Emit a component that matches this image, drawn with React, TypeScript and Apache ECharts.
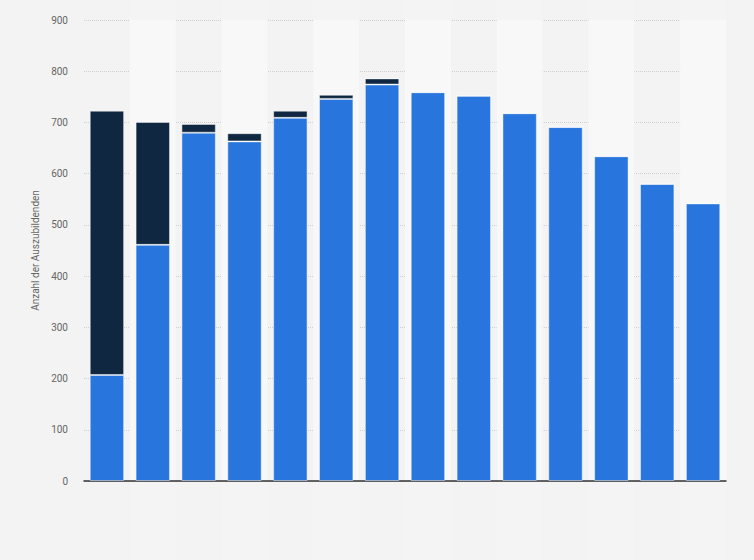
import { useEffect, useRef } from "react";
import * as echarts from "echarts";

// Kategorien (auf dem Bild ohne Beschriftung)
const categories = [
  "1", "2", "3", "4", "5", "6", "7",
  "8", "9", "10", "11", "12", "13", "14",
];

// unterer Teil (blau)
const blueValues = [207, 461, 680, 663, 709, 746, 774, 759, 752, 718, 691, 634, 580, 542];
// oberer Teil (dunkel)
const darkValues = [516, 240, 17, 16, 14, 8, 12, 0, 0, 0, 0, 0, 0, 0];

const yTicks = { min: 0, max: 900, interval: 100 };

const BG = "#f3f3f3";
const BLUE = "#2876dd";
const DARK = "#0f2741";

export default function App() {
  const chartRef = useRef<HTMLDivElement>(null);

  useEffect(() => {
    if (!chartRef.current) return;
    const chart = echarts.init(chartRef.current, undefined, { renderer: "svg" });

    const barBorder = { borderColor: "rgba(255,255,255,0.45)", borderWidth: 1 };

    chart.setOption({
      animation: false,
      backgroundColor: BG,
      grid: [
        { left: 84, right: 28, top: 20, bottom: 79 },
        // ganze Höhe für die schwachen Streifen
        { left: 84, right: 28, top: 0, bottom: 0 },
      ],
      xAxis: [
        {
          type: "category",
          gridIndex: 0,
          data: categories,
          axisLine: { lineStyle: { color: "#333", width: 1.5 } },
          axisTick: { show: false },
          axisLabel: { show: false, interval: 0 },
          splitArea: {
            show: true,
            interval: 0,
            areaStyle: { color: ["rgba(0,0,0,0)", "#f7f7f7"] },
          },
        },
        {
          type: "category",
          gridIndex: 1,
          data: categories,
          axisLine: { show: false },
          axisTick: { show: false },
          axisLabel: { show: false, interval: 0 },
          splitArea: {
            show: true,
            interval: 0,
            areaStyle: { color: ["rgba(0,0,0,0)", "rgba(255,255,255,0.12)"] },
          },
        },
      ],
      yAxis: [
        {
          type: "value",
          gridIndex: 0,
          min: yTicks.min,
          max: yTicks.max,
          interval: yTicks.interval,
          name: "Anzahl der Auszubildenden",
          nameLocation: "middle",
          nameGap: 38,
          nameTextStyle: { fontSize: 10, color: "#666", fontFamily: "Roboto" },
          axisLine: { show: false },
          axisTick: { show: false },
          axisLabel: { fontSize: 10, color: "#666", margin: 16, fontFamily: "Roboto" },
          splitLine: { lineStyle: { color: "#cfcfcf", type: "dotted", width: 1 } },
        },
        {
          type: "value",
          gridIndex: 1,
          show: false,
          splitLine: { show: false },
        },
      ],
      series: [
        {
          name: "Teil 1",
          type: "bar",
          stack: "total",
          data: blueValues,
          barCategoryGap: "25%",
          itemStyle: { color: BLUE, ...barBorder },
        },
        {
          name: "Teil 2",
          type: "bar",
          stack: "total",
          data: darkValues,
          itemStyle: { color: DARK, ...barBorder },
        },
      ],
    });

    return () => chart.dispose();
  }, []);

  return (
    <div
      ref={chartRef}
      style={{ position: "absolute", left: 0, top: 0, width: 754, height: 560 }}
    />
  );
}
